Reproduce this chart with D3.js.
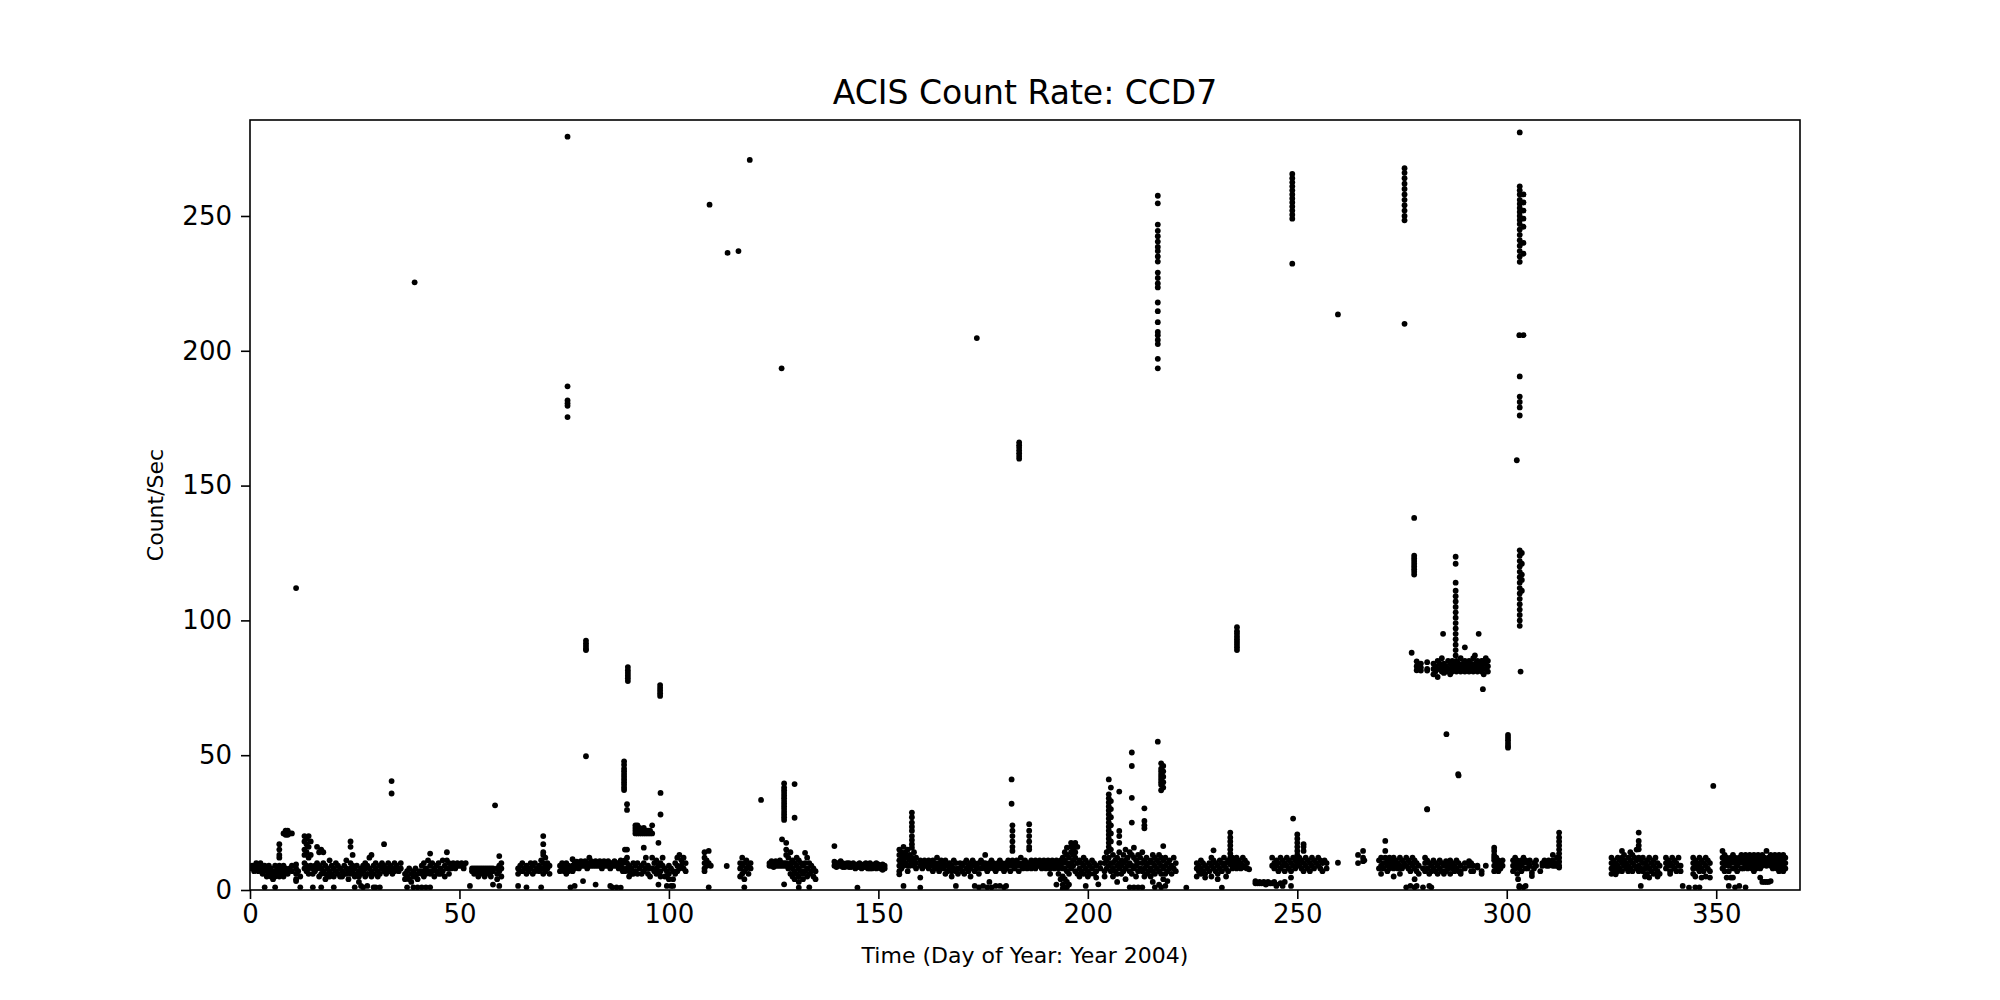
<!DOCTYPE html>
<html>
<head>
<meta charset="utf-8">
<script src="https://cdn.jsdelivr.net/npm/d3@7"></script>
<style>
  html, body { margin: 0; padding: 0; background: #fff; }
  svg { display: block; }
  text { font-family: "DejaVu Sans", sans-serif; fill: #000; }
</style>
</head>
<body>
<svg id="chart" width="2000" height="1000"></svg>
<script>
// ---- chart text and ticks ----
const titleText = "ACIS Count Rate: CCD7";
const xLabel = "Time (Day of Year: Year 2004)";
const yLabel = "Count/Sec";
const xTicks = [0, 50, 100, 150, 200, 250, 300, 350];
const yTicks = [0, 50, 100, 150, 200, 250];
const xDomain = [0, 370];
const yDomain = [0, 285.6];

// ---- data: each row is [day, rate, rate, ...] ----
const lowJanMar = [
  [0.5,8,9],[1,9,8,7],[1.5,10,8],[2,9,7,8],[2.5,10,9],[3,8,6,7],[3.5,1,9],[4,7,8,5],[4.5,6,9],
  [5,5,7,8],[5.5,6,4],[6,1,7,5,9],[6.5,8,6],[7,17,15,13,12,9,7,5],[7.5,8,6],[8,21,7,9,5],
  [8.5,22,21,20.5,8],[9,21,22,20.5,7,6],[9.5,21,8],[10,21,9,7],[11,9.5,8,6,4,3.3],[11.5,7],[12,5,1],
  [13,20,18,15,13,10,8],[13.5,19,17,14,9,7],[14,20,16,12,8,6],[14.5,18,13,9],[15,8,6,1],[15.5,9,7],
  [16,16,10,8],[16.5,14,9,5],[17,15,8,6,1],[17.5,14,10,7],[18,9,6,4],[18.5,8,5],[19,11,7,5],[19.5,9,6],
  [20,8,5,1],[20.5,10,7],[21,9,6],[21.5,8,5],[22,7,5],[22.5,9,6],[23,11,8,6],[23.5,7,4],[24,18,16,10,8,6],
  [24.5,13,9,7],[25,8,5,1],[25.5,9,6],[26,7,5,3],[26.5,8,6,1.5],[27,1,9,7],[27.5,10,8,5],[28,9,6,1.5],[28.5,12,8],
  [29,13,7,5],[29.5,9,6,1],[30,8,10,1],[30.5,7,5],[31,9,6,1],[31.5,10,8],[32,17,9,7],[32.5,8,6],[33,10,8,7],
  [33.5,9,7],[34,8,6],[34.5,10,7],[35,9,8],[35.5,7],[36,8,10],[37,6,4],[37.5,7,5,1],[38,8,4],[38.5,6,3],
  [39,7,5,1],[39.5,8,5],[40,6,4,1],[40.5,7],[41,9,6,1],[41.5,10,7,5],[42,8,6,1],[42.5,11,7],[43,13.5,9,6,1],[43.5,10,7],
  [44,8,5],[44.5,9,7],[45,10,6],[45.5,8,6],[46,11,7],[46.5,9,5],[47,14,11,8],[47.5,10,6],[48,9,8],
  [48.5,10,9],[49,9,8],[49.5,10,9],[50,9],[50.5,10,9],[51,9,8],[51.5,10],[52.5,1.5],[53,8,7],[53.5,8,7,6],
  [54,8,7],[54.5,8,7,5],[55,8,7],[55.5,8,6],[56,8,7,5],[56.5,8,7],[57,8,6],[57.5,7,8,5],[58,8,7,2],
  [59,8,6,4],[59.5,12.6,9,7,1.5],[60,10,8,5],[64,8,6,1.5],[64.5,9,7],[65,10,7],[65.5,8],[66,9,6,1],
  [66.5,8,7],[67,10,8],[67.5,9,6],[68,10,7],[68.5,8],[69,9,7],[69.5,11,8,1],[70,20,17,14,13,10,8,6],
  [70.5,12,9,7],[71,10,8],[71.5,9,6],[74,9,7],[74.5,8,10],[75,9,8,7],[75.5,10,8,6],[76,9,7],[76.5,8,1],
  [77,11.4,9,7],[77.5,8,10,1.5],[78,10.5,9],[78.5,10,8],[79,10.7,9],[79.5,10,9,3.3],[80,10.7,9],[80.5,10,8],
  [81,12,10,9],[81.5,10.7,9],[82,10,9],[82.5,10.7,9,2],[83,10,9],[83.5,10.7,9],[84,10,9,8],[84.5,10.7,9],
  [85,10,9],[85.5,10.7,9],[86,10,9,8,1.5],[86.5,10,9,1],[87,10.7,9],[87.5,10,9,1],[88,10,8],[88.5,9,11,0.9],
  [89,10,8,7],[89.5,15,11,7],[90,15,12,10,8],[90.5,9,7,5],[91,8,6],[91.5,10,6]
];

const lowAprJun = [
  [92,24,23,22,21,9,7],[92.5,24,22,21,10,6],[93,23,22,21,8],[93.5,22,21,9,6],[94,23,21,15.7,10,7],
  [94.5,22,21,12,8],[95,22,21,9,6],[95.5,22,21,8,5],[96,24,21,12,8],[96.5,10,7],[97,11,8,6],
  [97.5,17.5,9,7,2],[98,36,28,10,7,5],[98.5,12,9],[99,8,5],[99.5,7,5,1.5],[100,9,6,4],[100.5,8,1.5],
  [101,7,4,1.5],[101.5,10,6],[102,12,9,7],[102.5,13,8],[103,11,9],[103.5,12,8],[104,10,7],
  [108.5,14,12,10,8,7],[109,11,9],[109.5,14.5,10,1],[110,9],[113.8,8.9],[117,10,8,5],[117.5,12,9,6],
  [118,10,7,4,1],[118.5,11,8],[119,9,6],[119.5,10,8],[122,33.4],[124,10,9],[124.5,10.7,9],[125,10,8.5],
  [125.5,10.7,9],[126,10,9],[126.5,11,9],[127,10,9,18.8],
  [127.5,39.5,38,37,36,35,34,33,32,31,30,29,28,27,26,10,9,2.1],[128,17.5,15,13,10,9],[128.5,12,8],
  [129,14,10,9,6],[129.5,11,8,5],[130,39.3,26.8,10,7,4],[130.5,12,9,6],[131,11,8,5,3,0.9],[131.5,10,7],
  [132,9,6,4],[132.5,13.8,10,7],[133,12,8,5],[133.5,10,6,1],[134,9,7],[134.5,8,5],[135,7,4],
  [139.5,16.3,10.5,9],[140,10,9,8.5],[140.5,10,9],[141,10.7,9],[141.5,10,8.5],[142,9.5,8.5],[142.5,10,9],
  [143,10,8.5],[143.5,9.5,8.5],[144,10,9],[144.5,9,8],[145,9.5,8.5,0.9],[145.5,10,8.5],[146,9,8],
  [146.5,9.5,8.5],[147,10,8.5],[147.5,9.5,8],[148,10,8],[148.5,9,8],[149,9.5,8.5],[149.5,10,8],
  [150,9.5,8.5],[150.5,9,8],[151,9.5,7.5],[151.5,9,8],
  [155,15,13,11,9,7,5.8],[155.5,14,12,10,8],[156,16,13,11,9,1.5],[156.5,14,12,10],[157,15,12,9,7],
  [157.5,13,11,9],[158,28.7,27,25,23.5,22,20,18.5,17,15.7,12,10],[158.5,14,11,9],[159,12,10,8],
  [160,11,9,4.6,0.9],[160.5,10,8],[161,11,9],[161.5,10,9],[162,11,8],[162.5,10,9],[163,11,9,7],
  [163.5,10,8],[164,12,9],[164.5,10,8,7],[165,11,9],[165.5,10,8],[166,11,9,6],[166.5,9,7],[167,10,8],
  [167.5,9,7,5],[168,11,8],[168.5,10,7,1.5],[169,8,6],[169.5,10,8],[170,9,7],[170.5,10,6],[171,11,8],
  [171.5,9,7],[172,10,8,5],[172.5,11,9],[173,10,7,1.5],[173.5,9,8],[174,10,6,1],[174.5,11,8],
  [175,10,9,1.5],[175.5,13,10,8],[176,9,7,1],[176.5,10,8,3],[177,11,9,1],[177.5,10,8],[178,9,7,1.5],
  [178.5,10,8],[179,11,9,1.5],[179.5,10,8],[180,9,7,1],[180.5,10,8,1.5],[181,11,9],[181.5,10,7]
];

const lowJulSep = [
  [181.8,41,32],[182,24,22,20,18,16,14.5,11,9],[182.5,10,8],[183,11,9],[183.5,10,7],[184,12,9],[184.5,10,8],
  [185,11,9],[185.5,10,8],[186,24.4,22,20,18,16,15,10,9],[186.5,11,8],[187,10,9],[187.5,11,8],[188,10,9],
  [188.5,11,9],[189,10,8],[189.5,11,9],[190,10,8],[190.5,11,9],[191,10,8,6],[191.5,11,9],[192,10,8],
  [192.5,11,9,2],[193,10,8,6],[193.5,11,9,4],[194,12,10,8,5,2,0.5],[194.5,14,11,8,4,1],
  [195,15.7,13,10,7,3,1],[195.5,12,9,6,2],[196,17.5,16,14,10,8],[196.5,17,15,13,11,9],[197,17.5,16,14,12,7],
  [197.5,16,10,6],[198,11,8,5],[198.5,10,7],[199,12,9,6],[199.5,11,8,1.5],[200,10,7,5],[200.5,9,6],
  [201,11,8],[201.5,10,6],[202,9,7,4.6],[202.5,2.1],[203,10,8],[204,12,10,7,5],[204.5,14,11,8],
  [205,41,35.5,34,32.5,31,29.5,28,26.5,25,23.5,22,20.5,19,17.5,16,14.5,12,9],
  [205.5,38,33,30,27,24,21,18,15,10,7],[206,13,10,8,5],[206.5,11,7],[207,12,9,6,3],
  [207.5,36.5,21.9,20,17.5,14,10,8],[208,11,9,6],[208.5,13,10,7],[209,15,11,8,4],[209.5,12,9],
  [210,14,10,7,1],[210.5,51,46,34.2,25,13,9,6],[211,15.7,12,8,1],[211.5,11,9,5],[212,13,10,7,1],
  [212.5,12,8],[213,14,10,7,1],[213.5,30.3,25.6,24,22.9,11,8,5],[214,12,9,6],[214.5,10,7],[215,11,8,5],
  [215.5,13,10,7,3],[216,12,9,6,1],[216.5,11,8],[216.7,55],[217,13,10,7,2],
  [217.5,47,45,44,43,42,41,40,39,37,12,9,6,1],[218,46,44,42,40,38,16.3,11,8,4],[218.5,12,9,6,1.5],
  [219,10,7,3.3],[219.5,11,8],[220,9,6],[220.5,12,8],[221,10,7],[223.5,0.9],
  [226,10,8,5],[226.5,9,7],[227,11,8,6],[227.5,10,7],[228,9,6,4.6],[228.5,8],[229,10,7],[229.5,12,9,5],
  [230,14.7,11,8],[230.5,10,7],[231,9,6,4],[231.5,11,8],[232,10,7,0.9],[232.5,12,9],[233,10,8,5],
  [233.5,11,7],[234,21.3,19.5,18,16.5,15,13.5,12,10.5,9.5],[234.5,12,10,8],[235,11,9],[235.5,12,10,8],
  [236,11,9],[236.5,10,8],[237,12,9],[237.5,11,8.3],[238,10,8],[238.5,7.7],
  [240,3.3,2.5],[240.5,2.5],[241,3,2.5],[241.5,2.5],[242,3,2.5],[242.5,2.5,2],[243,3,2.5],[243.5,2.5],
  [244,12,9,2.5],[244.5,10,8,3],[245,11,9,2,1.5],[245.5,10,7],[246,12,8,2.5],[246.5,11,9,1.5],
  [247,10,7,3],[247.5,12,9],[248,11,8],[248.5,10,7,4.6,1.5],[249,26.5,12,9],[249.5,11,8],
  [250,20.6,19,17.5,16,14.5,13,11.5,10,9.5],[250.5,12,9],[251,11,8],[251.5,17,16,14.5,10,7],[252,12,9],
  [252.5,11,8],[253,10,7],[253.5,12,9],[254,11,8],[254.5,10],[255,12,9],[255.5,11,8],[256,10,7],
  [256.5,11],[257,10,8],[259.7,10.1],[264.5,13,10],[265.7,14.5,12,10.7],[266,11]
];

const lowOctDec = [
  [269.5,11,8],[270,12,9,6],[270.5,10,8],[271,18.2,14.5,12,10],[271.5,11,9,7],[272,12,10,8],[272.5,11,9],
  [273,12,10,8,5],[273.5,11,9],[274,10,8],[274.5,12,9,6],[275,11,8],[275.5,10,9],[276,12,9,1],
  [276.5,11,8],[277,10,7,1.5],[277.5,12,9],[278,11,8,4,1],[278.5,10,7,1.5],[279,9,6],[280,8,1],
  [280.5,12,10,7],[281,29.9,11,8],[281.5,10,6,1.5],[282,9,7,1],[282.5,11,8],[283,10,7],[283.5,9,6],
  [284,11,8],[284.5,10,7],[285,9,6],[285.5,10.7,9,7],[286,10,8],[286.5,11,9,6],[287,10,8],[287.5,9,7],
  [288,11,8],[288.5,42.5,10,7],[289,9,7,6],[290,10,8],[291,10.7,9],[291.5,10,7],[292,9,7],[293,8.3,9],
  [294,7,6],[295,9],[297,15.7,14.5,13,12,11,9,7],[297.5,12,10,8],[298,11,9,7],[298.5,10,8],[299,11,9],
  [301.5,11,9,7],[302,12,10,8],[302.5,11,9,6],[302.7,4],[303,10,8,1,1.5],[303.5,11,9,7],[304,12,10,1],
  [304.5,11,8,1.5],[305,10,8],[305.5,11,9],[306,6.4,5.2],[306.5,10,8],[307,11,9],[308,7],[308.5,10,9],
  [309,11,10,9.5],[309.5,10,9],[310,11,10,9],[310.5,10,9.5],[311,13,11,10,9],[311.5,10,9],[312,12,10,9],
  [312.5,21.3,19.5,18,16.5,15,13.5,12,10.5,9,8.3],
  [325,12,10,8,6],[325.5,11,9,7],[326,10,8,5.8],[326.5,12,9,7],[327,11,8],[327.5,14.5,12,10,7],
  [328,13,11,9],[328.5,10,8],[329,12,9,7],[329.5,14,11,8],[330,13,10,7],[330.5,12,9],[331,15,11,8],
  [331.5,21.3,18.2,16.5,15.1,12,9,7],[332,11,8,1.5],[332.5,12,10,7],[333,10,8,5],[333.5,11,9,6],
  [334,12,8,4.6],[334.5,10,7],[335,11,9,6],[335.5,12,8],[336,10,7,5],[336.5,9,6],[338,12,10,8],
  [338.5,11,9],[339,10,7,6],[339.5,12,9],[340,11,8],[340.5,10,7],[341,12,9],[341.5,9,7],[342,1.5],
  [343.5,0.9],[344.5,12,10,8,6],[345,11,9,5,1],[345.5,10,8],[346,12,9,7,1],[346.5,11,8,4.6],[347,10,7],
  [347.5,12,9,5],[348,11,8],[348.5,10,7,4.6],[349.3,38.6],[351.5,14.5,12,10,8],[352,13,11,9,7],
  [352.5,12,10,4.6],[353,11,9,7,1.5],[353.5,12,10,4.6],[354,13,11,8,4.6],[354.5,12,10,8,1],[355,11,9,7],
  [355.5,12,10,1.5],[356,13,11,8],[356.5,12,10,8],[357,13,11,9,1],[357.5,12,10,8],[358,13,11,9],
  [358.5,12,10,8],[359,13,11,9,7],[359.5,12,10,8],[360,13,11,9],[360.5,12,10,8,4.6],[361,13,11,9,3],
  [361.5,12,10,3],[362,14.5,11,9,3],[362.5,12,10,3],[363,13,11,9,3.3],[363.5,12,10,8],[364,13,11,9],
  [364.5,12,10,8],[365,13,11,9,7],[365.5,12,10,8],[366,13,11,9,7],[366.5,12,10,8]
];

const spikes = [
  [11,112],[39.3,225.4],[33.8,40.4,35.8],[58.5,31.4],
  [75.8,279.4,186.8,181.6,180.5,179.6,175.4],
  [80.2,92.5,91.5,90.5,89.5,89,49.6],
  [90.2,82.7,81.5,80.5,79.5,78.5,77.5],
  [89.3,47.7,46.5,45,44,43,42,41,40,39,38,37.1],[90,31.8,29.7],
  [97.9,76,75,74,73,72],
  [109.7,254.2],[114,236.3],[116.6,237],[119.3,270.8],[126.9,193.5],
  [173.5,204.7],
  [183.6,166,165,164,163,162,161,160],
  [216.7,257.5,254.7,246.8,244.5,242.5,240.5,238.5,237,235,233.1,229,227,225,223.5,217.9,214.7,210.6,207,205.8,204,202.5,197,193.5],
  [235.6,97.5,96,95,94,93,92,91,90,89],
  [248.8,265.6,264,262.5,261,259.5,258,256.5,255,253.5,252,250.5,249,232.3],
  [259.7,213.5],
  [275.6,267.7,266,264,262,260,258,256,254,252,250,248.4,210],
  [277.9,138,124,123,122,121,120,119,118,117],
  [277.3,88],[278.5,84.8,83,81.5],[279.5,84,82.5,81.4],[281,84.5,82,81.4,30],
  [282.5,84,82,80],[283,83,81],[283.5,85,82,79],[284,84,82],[284.5,86,83,81],[284.8,95],[285,84,82,80.5],
  [285.5,83,81],[285.6,57.8],[286,85,82],[286.5,84,82,80],[287,85,83,81],[287.5,84,82],
  [287.8,123.6,121,114,111,109,107,105,103,101,99,97,95,93,91,89,87],
  [288,85,83,81],[288.4,43],[288.5,84,82],[289,86,83,81],[289.5,84,82],[290,90,85,83,81],[290.5,84,82],
  [291,85,83,81],[291.5,84,82],[292,86,83,81],[292.4,87],[292.5,84,82],[293,85,83,81],[293.3,95],
  [293.5,84,82],[294,85,83,81],[294.3,74.5],[294.5,85,84,82,80],[295,86,84,82],[295.5,85,83,81],
  [300.3,57.5,56.5,55.5,54.5,53.5,52.8],
  [303.1,281,261,259.5,258,256,254.5,253,251.5,250,248.5,247,245,243,241,239,237,235,233,190.5,183,181,179,176],
  [304,258,255,252,249,246,240,236,205.8],[303,205.8],[302.4,159.4],
  [303.1,126,124,122,120,118,116,114,112,110,108,106,104,102,100,98],
  [303.6,125,121,117,115,111],[303.3,81]
];

// ---- build points ----
const groups = [lowJanMar, lowAprJun, lowJulSep, lowOctDec, spikes];
const points = [];
groups.forEach(g => g.forEach(row => {
  for (let i = 1; i < row.length; i++) points.push({ day: row[0], rate: row[i] });
}));

// ---- layout ----
const svg = d3.select("#chart");
const m = { left: 250, right: 200, top: 120, bottom: 110 };
const W = 2000, H = 1000;
const iw = W - m.left - m.right, ih = H - m.top - m.bottom;

const x = d3.scaleLinear().domain(xDomain).range([m.left, m.left + iw]);
const y = d3.scaleLinear().domain(yDomain).range([m.top + ih, m.top]);

const clipId = "plotclip";
svg.append("defs").append("clipPath").attr("id", clipId)
  .append("rect").attr("x", m.left).attr("y", m.top).attr("width", iw).attr("height", ih);

svg.append("g").attr("clip-path", `url(#${clipId})`)
  .selectAll("circle").data(points).enter().append("circle")
  .attr("cx", d => x(d.day)).attr("cy", d => y(d.rate))
  .attr("r", 2.9).attr("fill", "#000");

// axes
const xAxis = d3.axisBottom(x).tickValues(xTicks).tickSize(9).tickPadding(6).tickFormat(d3.format("d"));
const yAxis = d3.axisLeft(y).tickValues(yTicks).tickSize(9).tickPadding(9).tickFormat(d3.format("d"));

const gx = svg.append("g").attr("transform", `translate(0,${m.top + ih})`).call(xAxis);
const gy = svg.append("g").attr("transform", `translate(${m.left},0)`).call(yAxis);
[gx, gy].forEach(g => {
  g.select(".domain").remove();
  g.selectAll(".tick line").attr("stroke", "#000").attr("stroke-width", 1.6);
  g.selectAll(".tick text").attr("font-family", "DejaVu Sans").attr("font-size", 26).attr("fill", "#000");
});

// frame
svg.append("rect").attr("x", m.left).attr("y", m.top).attr("width", iw).attr("height", ih)
  .attr("fill", "none").attr("stroke", "#000").attr("stroke-width", 1.6);

// title and labels
svg.append("text").attr("x", m.left + iw / 2).attr("y", 104).attr("text-anchor", "middle")
  .attr("font-size", 33).text(titleText);
svg.append("text").attr("x", m.left + iw / 2).attr("y", 963).attr("text-anchor", "middle")
  .attr("font-size", 22).text(xLabel);
svg.append("text").attr("transform", `translate(163,${m.top + ih / 2}) rotate(-90)`)
  .attr("text-anchor", "middle").attr("font-size", 22).text(yLabel);
</script>
</body>
</html>
